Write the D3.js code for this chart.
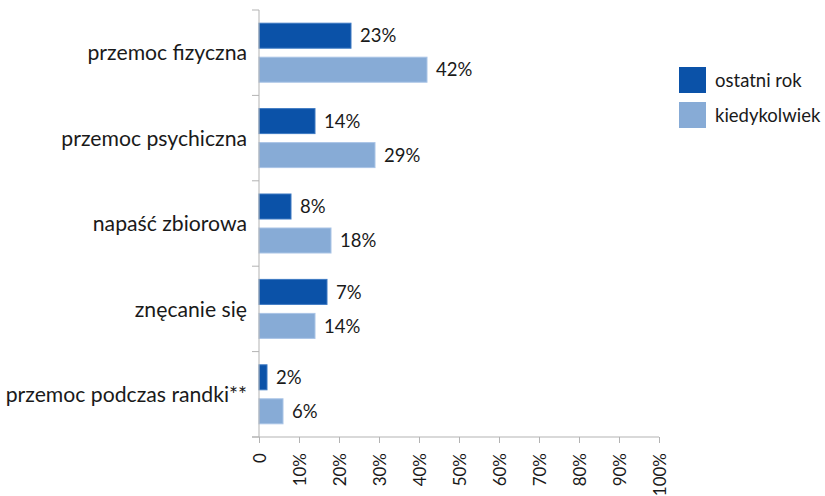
<!DOCTYPE html>
<html>
<head>
<meta charset="utf-8">
<script src="https://cdn.jsdelivr.net/npm/d3@7"></script>
<style>
  body { margin: 0; background: #fff; }
  text { font-family: Lato, "Open Sans", sans-serif; fill: #1a1a1a; }
</style>
</head>
<body>
<div class="plot"></div>
<script>
const categories = [
    "przemoc fizyczna",
    "przemoc psychiczna",
    "napaść zbiorowa",
    "znęcanie się",
    "przemoc podczas randki**"
];
const seriesNames = ["ostatni rok", "kiedykolwiek"];
const lastYear = [23, 14, 8, 17, 2];
const ever = [42, 29, 18, 14, 6];
// printed labels as in the picture (the 4th dark bar reads 7%)
const lastYearLabels = ["23%", "14%", "8%", "7%", "2%"];
const everLabels = ["42%", "29%", "18%", "14%", "6%"];
const xTicks = [0, 10, 20, 30, 40, 50, 60, 70, 80, 90, 100];

const colors = ["#0b52a8", "#87abd6"];
const strokes = ["#3d79c2", "#a9c4e6"];

const svg = d3
    .select(".plot")
    .append("svg")
    .attr("width", 825)
    .attr("height", 496);

const plotLeft = 259;
const plotTop = 10;
const plotBottom = 437;

const xScale = d3.scaleLinear().domain([0, 100]).range([plotLeft, 659]);
const yScale = d3.scaleBand().domain(categories).range([plotTop, plotBottom]);

const rows = categories.map((c, i) => ({
    cat: c,
    vals: [lastYear[i], ever[i]],
    labels: [lastYearLabels[i], everLabels[i]]
}));

const barH = 26;
const gap = 8;

// bars
const group = svg
    .selectAll(".row")
    .data(rows)
    .join("g")
    .attr("class", "row")
    .attr("transform", (d) => `translate(0, ${yScale(d.cat) + yScale.bandwidth() / 2})`);

[0, 1].forEach((s) => {
    const yOff = s === 0 ? -(barH + gap / 2) : gap / 2;
    group
        .append("rect")
        .attr("x", xScale(0))
        .attr("y", yOff + 0.5)
        .attr("width", (d) => xScale(d.vals[s]) - xScale(0))
        .attr("height", barH - 1)
        .style("fill", colors[s])
        .style("stroke", strokes[s])
        .style("stroke-width", 1);
    group
        .append("text")
        .attr("x", (d) => xScale(d.vals[s]) + 9)
        .attr("y", yOff + barH / 2)
        .attr("dy", "0.36em")
        .style("font-size", "18.5px")
        .text((d) => d.labels[s]);
});

// category labels
svg.append("g")
    .selectAll("text")
    .data(categories)
    .join("text")
    .attr("x", plotLeft - 12)
    .attr("y", (d) => yScale(d) + yScale.bandwidth() / 2)
    .attr("dy", "0.36em")
    .attr("text-anchor", "end")
    .style("font-size", "21.2px")
    .text((d) => d);

// y axis line with boundary ticks
const yAxis = svg.append("g").attr("class", "y-axis");
yAxis.append("line")
    .attr("x1", plotLeft).attr("x2", plotLeft)
    .attr("y1", plotTop).attr("y2", plotBottom)
    .style("stroke", "#b3b3b3");
yAxis.selectAll(".bt")
    .data(categories.map((c) => yScale(c)).concat([plotBottom]))
    .join("line")
    .attr("class", "bt")
    .attr("x1", plotLeft - 7).attr("x2", plotLeft)
    .attr("y1", (d) => d).attr("y2", (d) => d)
    .style("stroke", "#b3b3b3");

// x axis
const xAxis = svg
    .append("g")
    .attr("transform", `translate(0, ${plotBottom})`)
    .call(
        d3.axisBottom(xScale)
            .tickValues(xTicks)
            .tickSize(6)
            .tickFormat((d) => (d === 0 ? "0" : d + "%"))
    );
xAxis.select(".domain").attr("d", `M${plotLeft - 7},0H${xScale(100)}`).style("stroke", "#b3b3b3");
xAxis.selectAll(".tick line").style("stroke", "#b3b3b3");
xAxis.selectAll(".tick text")
    .attr("transform", "rotate(-90)")
    .attr("text-anchor", "end")
    .attr("x", -16)
    .attr("y", 0)
    .attr("dy", "0.36em")
    .style("font-size", "17px")
    .style("font-family", "Lato, sans-serif")
    .style("fill", "#1a1a1a");

// legend
const legend = svg
    .selectAll(".legend")
    .data(seriesNames)
    .join("g")
    .attr("class", "legend")
    .attr("transform", (d, i) => `translate(679, ${67 + i * 35})`);
legend.append("rect")
    .attr("width", 27)
    .attr("height", 26)
    .style("fill", (d, i) => colors[i]);
legend.append("text")
    .attr("x", 36)
    .attr("y", 13)
    .attr("dy", "0.36em")
    .style("font-size", "18.5px")
    .text((d) => d);
</script>
</body>
</html>
